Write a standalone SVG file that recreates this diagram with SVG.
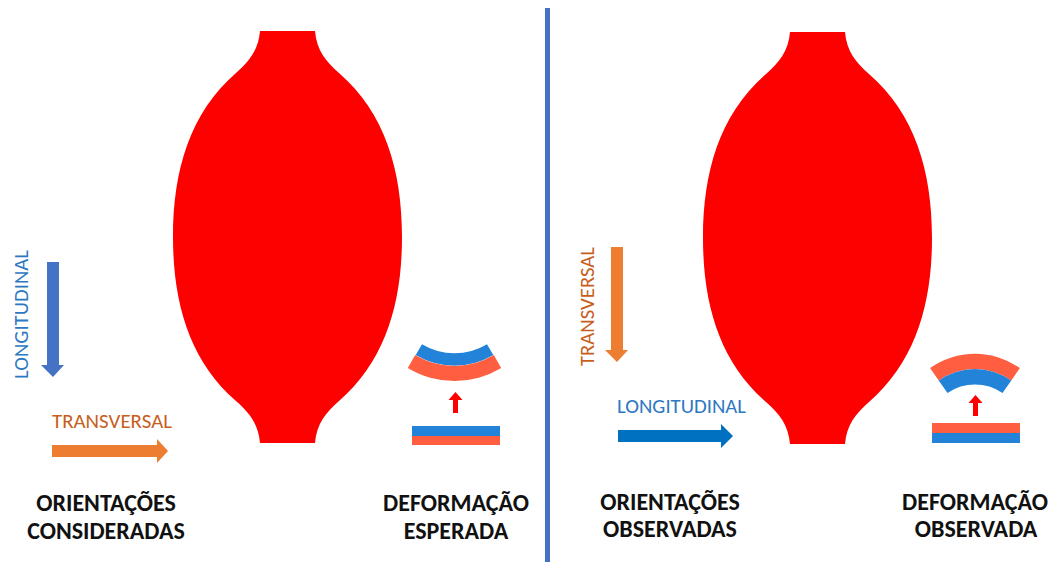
<svg xmlns="http://www.w3.org/2000/svg" width="1054" height="562" viewBox="0 0 1054 562">
  <defs>
    <style>
      .muscle { fill: #FD0000; }
      .axis-lbl { font-family: "Carlito", "Lato", "Liberation Sans", sans-serif; font-size: 20px; }
      .long-txt { fill: #2E78C2; }
      .trans-txt { fill: #C85E1C; }
      .caption { font-family: "Carlito", "Lato", "Liberation Sans", sans-serif; font-size: 24px; font-weight: bold; fill: #111111; text-anchor: middle; }
      .bar-blue { fill: #2283D8; }
      .bar-orange { fill: #FF5F40; }
      .lift { fill: #FF0000; }
    </style>
    <!-- fusiform muscle outline, centred on x=0, top at y=0 -->
    <path id="muscle-shape" d="M-27.5,0 L27.5,0 C29,19 38.5,30.7 51.5,42 C97.5,82 114.5,139 114.5,206 C114.5,273 97.5,330 51.5,370 C38.5,381.3 29,393 27.5,412 L-27.5,412 C-29,393 -38.5,381.3 -51.5,370 C-97.5,330 -114.5,273 -114.5,206 C-114.5,139 -97.5,82 -51.5,42 C-38.5,30.7 -29,19 -27.5,0 Z"/>
    <!-- small upward arrow used in the deformation icons -->
    <path id="lift-arrow" d="M-2.5,21 L-2.5,8 L-7,8 L0,0 L7,8 L2.5,8 L2.5,21 Z"/>
  </defs>

  <rect width="1054" height="562" fill="#FFFFFF"/>

  <!-- divider between the two panels -->
  <rect id="divider" x="545" y="8" width="5" height="554" fill="#4472C4"/>

  <!-- LEFT PANEL -->
  <g id="muscle-left">
    <use href="#muscle-shape" class="muscle" x="287.5" y="31"/>
  </g>

  <g id="orient-considered">
    <path d="M47,262 L59,262 L59,365 L64,365 L53,377 L41,365 L47,365 Z" fill="#4472C4"/>
    <text class="axis-lbl long-txt" transform="translate(28,379) rotate(-90)" textLength="129" lengthAdjust="spacingAndGlyphs">LONGITUDINAL</text>
    <text class="axis-lbl trans-txt" x="52" y="428" textLength="120" lengthAdjust="spacingAndGlyphs">TRANSVERSAL</text>
    <path d="M52,445 L157,445 L157,439 L168,451 L157,463 L157,457 L52,457 Z" fill="#ED7D31"/>
  </g>

  <g id="deform-expected">
    <!-- bent strip: blue inner band, orange outer band -->
    <path class="bar-blue" d="M422,344.3 A63,63 0 0 0 487,344.3 L493.3,355 A76,76 0 0 1 415.7,355 Z"/>
    <path class="bar-orange" d="M415.2,355 A76,76 0 0 0 493.8,355 L501.2,368 A90,90 0 0 1 407.8,368 Z"/>
    <use href="#lift-arrow" class="lift" x="455.5" y="392"/>
    <rect class="bar-blue" x="412" y="426" width="88" height="10"/>
    <rect class="bar-orange" x="412" y="436" width="88" height="9"/>
  </g>

  <g id="caption-left">
    <text class="caption" x="106" y="511">ORIENTAÇÕES</text>
    <text class="caption" x="106" y="539">CONSIDERADAS</text>
    <text class="caption" x="456" y="511">DEFORMAÇÃO</text>
    <text class="caption" x="456" y="539">ESPERADA</text>
  </g>

  <!-- RIGHT PANEL -->
  <g id="muscle-right">
    <use href="#muscle-shape" class="muscle" x="817.5" y="32"/>
  </g>

  <g id="orient-observed">
    <path d="M611,247 L623,247 L623,350 L628,350 L617,362 L605,350 L611,350 Z" fill="#ED7D31"/>
    <text class="axis-lbl trans-txt" transform="translate(594,366) rotate(-90)" textLength="119" lengthAdjust="spacingAndGlyphs">TRANSVERSAL</text>
    <text class="axis-lbl long-txt" x="617" y="413" textLength="129" lengthAdjust="spacingAndGlyphs">LONGITUDINAL</text>
    <path d="M618,430 L721,430 L721,424 L733,436 L721,448 L721,442 L618,442 Z" fill="#0070C0"/>
  </g>

  <g id="deform-observed">
    <!-- arched strip: orange outer band, blue inner band -->
    <path class="bar-orange" d="M930.1,368 A78,78 0 0 1 1019.9,368 L1011.3,380.5 A63,63 0 0 0 938.7,380.5 Z"/>
    <path class="bar-blue" d="M938.7,380.5 A63,63 0 0 1 1011.3,380.5 L1002.5,393 A49,49 0 0 0 947.5,393 Z"/>
    <use href="#lift-arrow" class="lift" x="975.5" y="395"/>
    <rect class="bar-orange" x="932" y="423" width="88" height="10"/>
    <rect class="bar-blue" x="932" y="433" width="88" height="10"/>
  </g>

  <g id="caption-right">
    <text class="caption" x="670" y="510">ORIENTAÇÕES</text>
    <text class="caption" x="670" y="537">OBSERVADAS</text>
    <text class="caption" x="975" y="510">DEFORMAÇÃO</text>
    <text class="caption" x="976" y="537">OBSERVADA</text>
  </g>

  <!-- no connectors between nodes in this figure -->
  <g id="connectors"/>
</svg>
